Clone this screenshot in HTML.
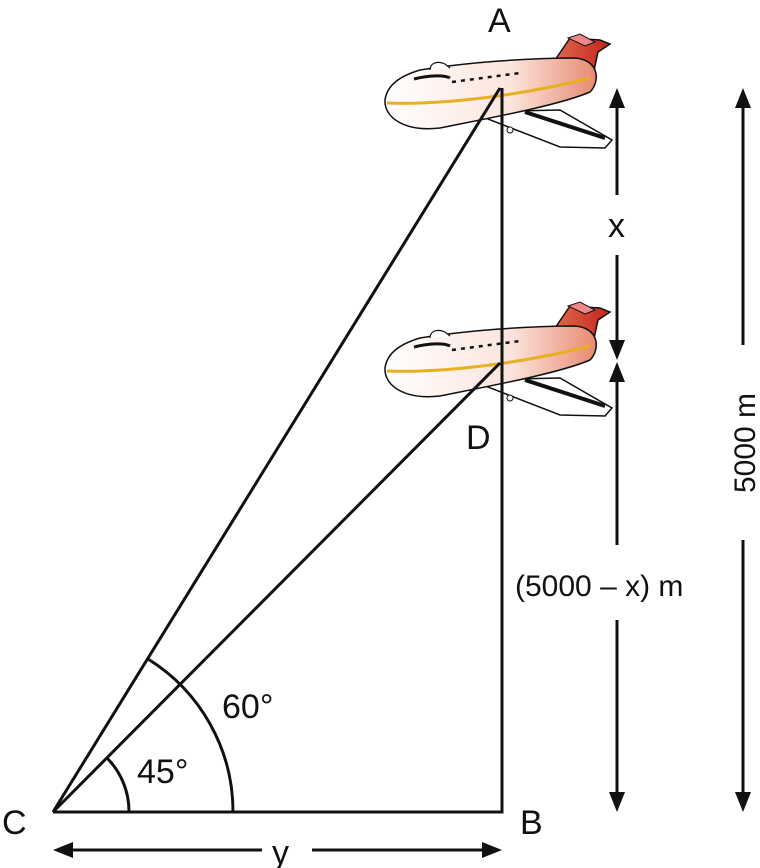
<!DOCTYPE html>
<html><head><style>
body{margin:0;background:#fff;}
svg{display:block}
text{font-family:"Liberation Sans",sans-serif;fill:#111}
</style></head><body>
<svg width="760" height="868" viewBox="0 0 760 868" xmlns="http://www.w3.org/2000/svg">
<defs>
<linearGradient id="body" x1="0" y1="0" x2="1" y2="0">
<stop offset="0" stop-color="#fff"/><stop offset="0.6" stop-color="#fbe4dc"/><stop offset="1" stop-color="#e88a70"/>
</linearGradient>
<linearGradient id="tail" x1="0" y1="0" x2="1" y2="0">
<stop offset="0" stop-color="#e0684c"/><stop offset="1" stop-color="#c4241c"/>
</linearGradient>
<g id="plane">
<path d="M470,112 L560,110 L612,140 L605,148 L560,147 Z" fill="#fff" stroke="#111" stroke-width="1.5"/>
<path d="M525,112 L605,138" stroke="#111" stroke-width="4"/>
<path d="M555,60 L570,38 L600,40 L610,44 L598,52 L592,80 Z" fill="url(#tail)" stroke="#111" stroke-width="1.5"/>
<path d="M568,38 L580,34 L595,42 L585,46 Z" fill="#e88" stroke="#111" stroke-width="1"/>
<path d="M420,70 C470,62 530,58 575,58 C600,60 600,82 590,92 C560,105 490,118 440,128 C405,132 384,118 385,100 C387,85 400,76 420,70 Z" fill="url(#body)" stroke="#111" stroke-width="1.5"/>
<path d="M387,103 C440,105 520,96 590,78" stroke="#e8b020" stroke-width="3" fill="none"/>
<path d="M414,79 C430,75 445,75 450,78" stroke="#111" stroke-width="3" fill="none"/>
<path d="M452,82 L520,73" stroke="#111" stroke-width="2.5" stroke-dasharray="4,5" fill="none"/>
<path d="M430,70 C430,64 436,60 445,64 L450,68" fill="#fff" stroke="#111" stroke-width="1.2"/>
<circle cx="510" cy="130" r="3" fill="#fff" stroke="#111"/>
</g>
</defs>
<use href="#plane"/>
<use href="#plane" transform="translate(0,268)"/>
<g stroke="#111" stroke-width="3" fill="none">
<path d="M53,812 L502,812 L502,88 M53,812 L500,88 M53,812 L500,363"/>
<path d="M129,812 A76,76 0 0 0 107,758"/>
<path d="M233,812 A180,180 0 0 0 148,659"/>
<path d="M617,105 V195 M617,255 V345 M617,382 V545 M617,620 V795"/>
<path d="M743,105 V345 M743,540 V795"/>
<path d="M72,850 H262 M312,850 H484"/>
</g>
<g fill="#111">
<path d="M617,88 L609,108 L625,108 Z M617,360 L609,340 L625,340 Z M617,362 L609,382 L625,382 Z M617,812 L609,792 L625,792 Z"/>
<path d="M743,88 L735,108 L751,108 Z M743,812 L735,792 L751,792 Z"/>
<path d="M53,850 L73,842 L73,858 Z M502,850 L482,842 L482,858 Z"/>
</g>
<g font-size="34">
<text x="488" y="32">A</text>
<text x="466" y="449">D</text>
<text x="2" y="834">C</text>
<text x="520" y="834">B</text>
<text x="608" y="237">x</text>
<text x="272" y="864">y</text>
<text x="222" y="718">60°</text>
<text x="137" y="783">45°</text>
<text x="515" y="596" font-size="30">(5000 – x) m</text>
<text x="0" y="0" font-size="30" transform="translate(755,443) rotate(-90)" text-anchor="middle">5000 m</text>
</g>
</svg>
</body></html>
